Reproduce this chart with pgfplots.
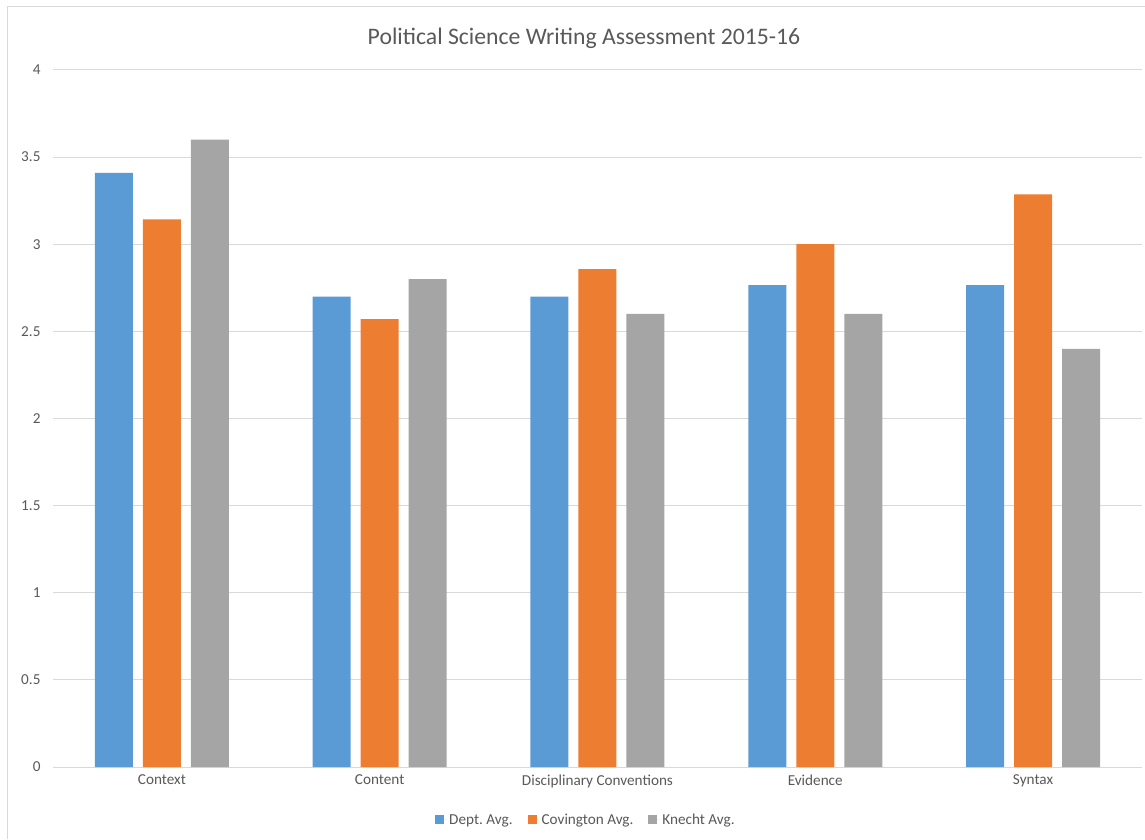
\documentclass[border=0pt]{standalone}
\usepackage{pgfplots}
\pgfplotsset{compat=1.18}
\usepackage{fontspec}
\setmainfont{Carlito}
\frenchspacing
\definecolor{cblue}{HTML}{5B9BD5}
\definecolor{corange}{HTML}{ED7D31}
\definecolor{cgrey}{HTML}{A5A5A5}
\definecolor{ctext}{HTML}{595959}
\definecolor{cgrid}{HTML}{D9D9D9}
\begin{document}
\begin{tikzpicture}[x=1pt,y=1pt]
\useasboundingbox (0,0) rectangle (1145,839);
\draw[cgrid,line width=1pt] (7,0) -- (7,832) -- (1145,832);
\node[text=ctext,font=\fontsize{23.7}{28}\selectfont] at (584,801) {Political Science Writing Assessment 2015-16};
\begin{axis}[
  at={(53pt,72pt)}, anchor=south west,
  scale only axis, width=1089pt, height=697pt,
  xmin=-0.5, xmax=4.5, ymin=0, ymax=4,
  ybar=10pt, bar width=38pt,
  xtick=data,
  xticklabels={Context,Content,Disciplinary Conventions,Evidence,Syntax},
  ytick={0,0.5,1,1.5,2,2.5,3,3.5,4},
  yticklabels={0,0.5,1,1.5,2,2.5,3,3.5,4},
  ymajorgrids, grid style={cgrid,line width=1pt},
  axis x line*=bottom, axis y line*=left,
  x axis line style={cgrid,line width=1pt,-},
  y axis line style={draw=none},
  major tick length=0pt,
  tick label style={text=ctext,font=\fontsize{15.2}{18}\selectfont},
  xticklabel style={yshift=-4pt},
  yticklabel style={xshift=-9pt},
  legend columns=3,
  legend style={at={(0.4894,-0.076)}, anchor=center, draw=none,
    font=\fontsize{15.2}{18}\selectfont, text=ctext,
    /tikz/every even column/.append style={column sep=13pt}},
  legend image code/.code={\fill[#1,draw=none] (0pt,-4.5pt) rectangle (9pt,4.5pt);\path (0pt,0pt) -- (12pt,0pt);},
  clip=false,
]
\addplot[fill=cblue,draw=none] coordinates {(0,3.41) (1,2.70) (2,2.70) (3,2.766) (4,2.766)};
\addplot[fill=corange,draw=none] coordinates {(0,3.143) (1,2.57) (2,2.857) (3,3.0) (4,3.286)};
\addplot[fill=cgrey,draw=none] coordinates {(0,3.6) (1,2.8) (2,2.6) (3,2.6) (4,2.4)};
\legend{Dept. Avg.,Covington Avg.,Knecht Avg.}
\end{axis}
\end{tikzpicture}
\end{document}
